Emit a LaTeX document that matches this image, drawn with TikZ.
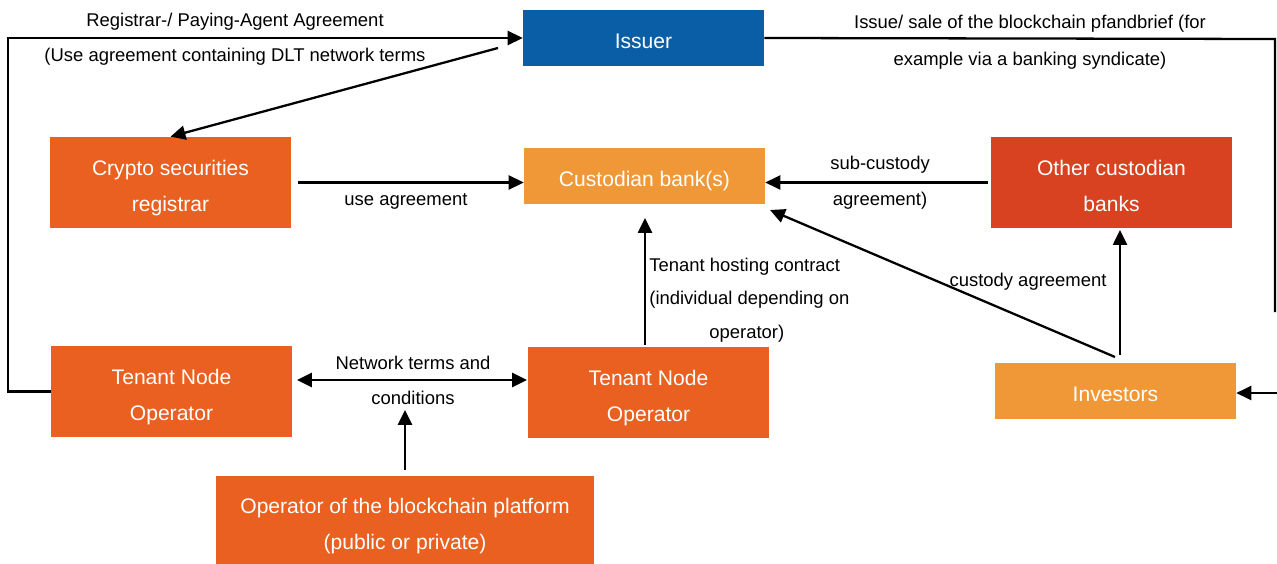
\documentclass[tikz,border=0pt]{standalone}
\usepackage{fontspec}
\setmainfont{Liberation Sans}
\usetikzlibrary{arrows.meta}
\definecolor{issuerblue}{RGB}{10,94,166}
\definecolor{mainorange}{RGB}{234,96,32}
\definecolor{lightorange}{RGB}{240,152,56}
\definecolor{redorange}{RGB}{216,66,32}
% strut that lowers the text block inside a box
\newcommand{\topstrut}[1][12.8pt]{\rule{0pt}{#1}}
\tikzset{
  box/.style={rectangle, inner sep=0pt, minimum width=4.82cm, text=white,
    align=center, text depth=0pt, font=\fontsize{12}{20.4}\selectfont},
  tallbox/.style={box, minimum height=1.82cm},
  flatbox/.style={box, minimum height=1.12cm,
    execute at begin node={\topstrut[12.5pt]}},
  lbl/.style={inner sep=0pt, font=\fontsize{10.5}{19}\selectfont},
  conn/.style={line width=1.3pt},
  tip/.tip={Triangle[length=8.5pt,width=8pt]},
  arr/.style={conn, -tip},
  dblarr/.style={conn, tip-tip}
}
\begin{document}
\begin{tikzpicture}[x=0.02cm,y=-0.02cm]
\useasboundingbox (0,0) rectangle (1277,564);

% boxes
\node[flatbox, fill=issuerblue] (issuer) at (643.5,38) {Issuer};
\node[tallbox, fill=mainorange] (registrar) at (170.5,182.5) {\topstrut Crypto securities\\registrar};
\node[flatbox, fill=lightorange] (custodian) at (644.5,176) {Custodian bank(s)};
\node[tallbox, fill=redorange] (other) at (1111.5,182.5) {\topstrut Other custodian\\banks};
\node[tallbox, fill=mainorange] (tnoL) at (171.5,391.5) {\topstrut Tenant Node\\Operator};
\node[tallbox, fill=mainorange] (tnoM) at (648.5,392.5) {\topstrut Tenant Node\\Operator};
\node[flatbox, fill=lightorange] (investors) at (1115.5,391) {Investors};
\node[box, minimum width=7.56cm, minimum height=1.76cm, fill=mainorange] (operator) at (405,520) {\topstrut[13.4pt]Operator of the blockchain platform\\(public or private)};

% helper points for the connectors
\coordinate (lb) at (8,391.5);
\coordinate (lt) at (8,38);
\coordinate (rt) at (1275,39);
\coordinate (rb) at (1275,312);
\coordinate (rin) at (1277,393);
\coordinate (isrc) at (498,48);
\coordinate (invA) at (1115,357);
\coordinate (custC) at (770,210);
\coordinate (invB) at (1120,355);
\coordinate (othB) at (1120,230);
\coordinate (tnoT) at (645,345);
\coordinate (custB) at (645,218);
\coordinate (ntL) at (297,380);
\coordinate (ntR) at (527,380);
\coordinate (opT) at (405,470);
\coordinate (opE) at (405,410);

% connectors
\draw[arr] (tnoL.west) -- (lb) -- (lt) -- (issuer.west);
\draw[arr] (isrc) -- (registrar.north);
\draw[conn] (issuer.east) -- (rt) -- (rb);
\draw[arr] (rin) -- (rin -| investors.east);
\draw[arr, shorten <=0.14cm] (registrar.east) -- (custodian.west |- registrar.east);
\draw[arr, shorten <=0.06cm] (other.west) -- (custodian.east |- other.west);
\draw[arr] (invA) -- (custC);
\draw[arr] (invB) -- (othB);
\draw[arr] (tnoT) -- (custB);
\draw[dblarr] (ntL) -- (ntR);
\draw[arr] (opT) -- (opE);

% labels
\node[lbl] (l1) at (235,22) {Registrar-/ Paying-Agent Agreement};
\node[lbl] (l2) at (235,57) {(Use agreement containing DLT network terms};
\node[lbl] (l3) at (1030,24) {Issue/ sale of the blockchain pfandbrief (for};
\node[lbl] (l4) at (1030,61) {example via a banking syndicate)};
\node[lbl] (l5) at (406,201) {use agreement};
\node[lbl] (l6) at (880,165) {sub-custody};
\node[lbl] (l7) at (880,201) {agreement)};
\node[lbl] (l8) at (1028,282) {custody agreement};
\node[lbl, anchor=west] (l9) at (649,267) {Tenant hosting contract};
\node[lbl, anchor=west] (l10) at (649,300) {(individual depending on};
\node[lbl, anchor=west] (l11) at (709,334) {operator)};
\node[lbl] (l12) at (413,363) {Network terms and};
\node[lbl] (l13) at (413,398) {conditions};
\end{tikzpicture}
\end{document}
